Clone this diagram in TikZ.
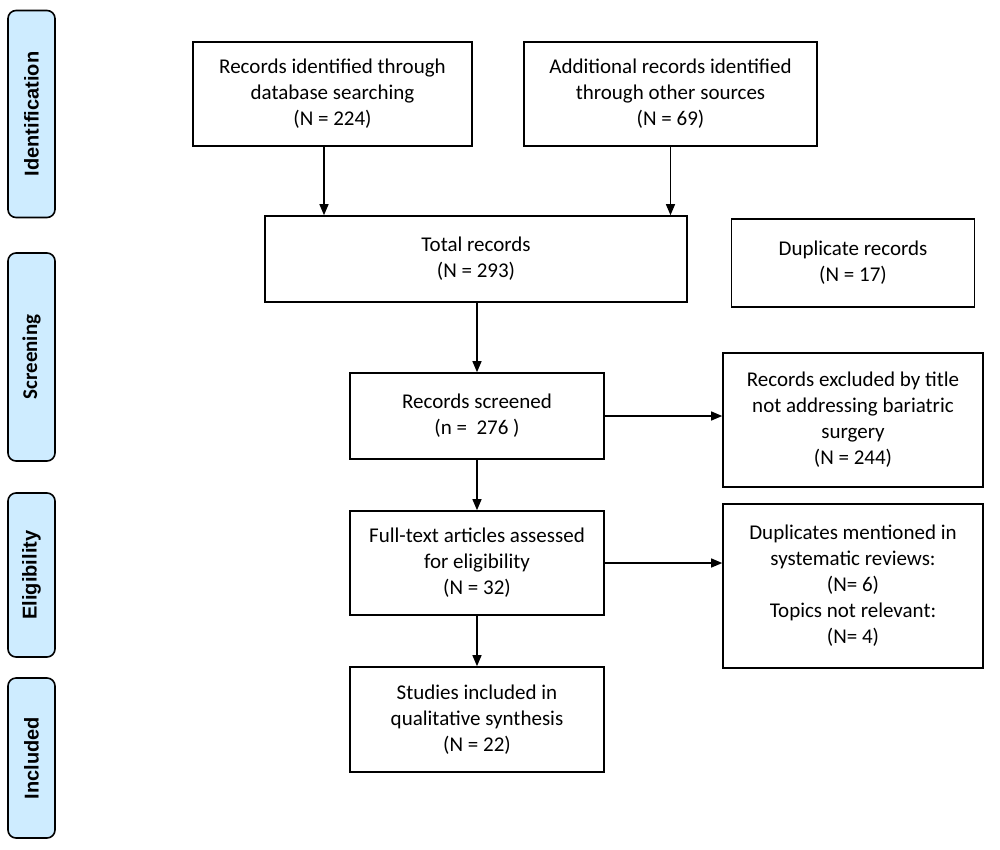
\documentclass[tikz,border=0pt]{standalone}
\usepackage{fontspec}
\setmainfont{Carlito}
\newfontfamily\arialfont{Liberation Sans}[BoldFont={Liberation Sans Bold}]
\usetikzlibrary{arrows.meta}
\definecolor{sidefill}{RGB}{206,236,255}
\begin{document}
\begin{tikzpicture}[x=1pt,y=-1pt,
  box/.style={draw=black,line width=1.6pt,fill=white,align=center,inner sep=2pt,
    font=\fontsize{21}{26}\selectfont},
  side/.style={draw=black,line width=1.6pt,fill=sidefill,rounded corners=8pt,
    minimum width=47pt,inner sep=0pt},
  sidetext/.style={rotate=90,inner sep=0pt},
  arr/.style={line width=1.3pt,-{Triangle[length=11pt,width=9pt]}}]
\useasboundingbox (0,0) rectangle (1000,849);
% side labels
\node[side,minimum height=207pt] (sid) at (31.5,114) {};
\node[sidetext] (sidt) at (sid.center) {\arialfont\bfseries\fontsize{20}{24}\selectfont Identification};
\node[side,minimum height=208pt] (sscr) at (31.5,357) {};
\node[sidetext] (sscrt) at (sscr.center) {\bfseries\fontsize{21}{24}\selectfont Screening};
\node[side,minimum height=164pt] (selg) at (31.5,575) {};
\node[sidetext] (selgt) at (selg.center) {\arialfont\bfseries\fontsize{20}{24}\selectfont Eligibility};
\node[side,minimum height=160pt] (sinc) at (31.5,758) {};
\node[sidetext] (sinct) at (sinc.center) {\arialfont\bfseries\fontsize{20}{24}\selectfont Included};
% main boxes
\node[box,minimum width=279pt,minimum height=104pt] (b1) at (332.5,94)
  {Records identified through\\database searching\\(N = 224)};
\node[box,minimum width=293pt,minimum height=104pt] (b2) at (670.5,94)
  {Additional records identified\\through other sources\\(N = 69)};
\node[box,minimum width=422pt,minimum height=86pt] (tot) at (476,259)
  {Total records\\(N = 293)};
\node[box,minimum width=243pt,minimum height=88pt] (dup) at (853,263)
  {Duplicate records\\(N = 17)};
\node[box,minimum width=254pt,minimum height=86pt] (scr) at (477,416)
  {Records screened\\(n = \ 276 )};
\node[box,minimum width=260pt,minimum height=134pt] (exc) at (853,420)
  {Records excluded by title\\not addressing bariatric\\surgery\\(N = 244)};
\node[box,minimum width=254pt,minimum height=104pt] (ft) at (477,563)
  {Full-text articles assessed\\for eligibility\\(N = 32)};
\node[box,minimum width=260pt,minimum height=164pt] (dm) at (853,586)
  {Duplicates mentioned in\\systematic reviews:\\(N= 6)\\Topics not relevant:\\(N= 4)};
\node[box,minimum width=254pt,minimum height=105pt] (inc) at (477,719.5)
  {Studies included in\\qualitative synthesis\\(N = 22)};
% connectors
\draw[arr] ([xshift=-8.5pt]b1.south) -- ([xshift=-8.5pt]b1.south |- tot.north);
\draw[arr] (b2.south) -- (b2.south |- tot.north);
\draw[arr] (tot.south -| scr.north) -- (scr.north);
\draw[arr] (scr.south) -- (ft.north);
\draw[arr] (ft.south) -- (inc.north);
\draw[arr] (scr.east) -- (scr.east -| exc.west);
\draw[arr] (ft.east) -- (ft.east -| dm.west);
\end{tikzpicture}
\end{document}
